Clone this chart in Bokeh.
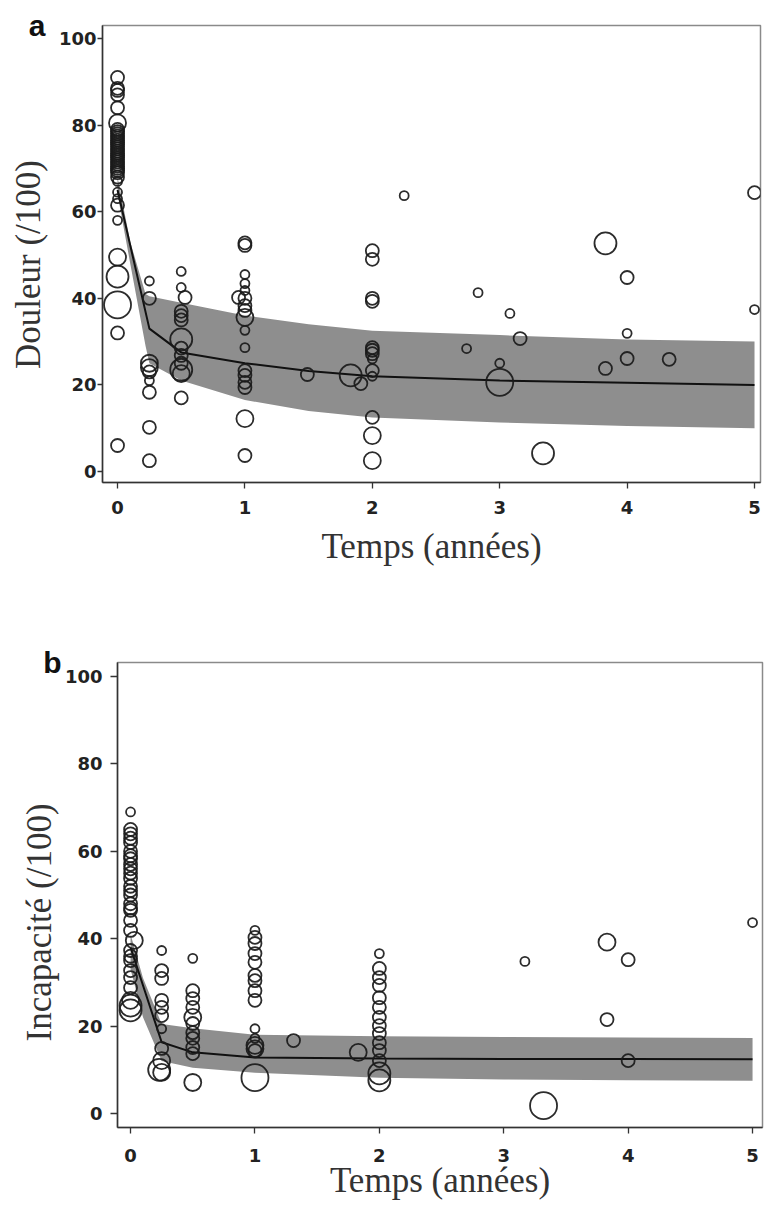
from bokeh.plotting import figure
from bokeh.layouts import column
from bokeh.models import Range1d, FixedTicker, LinearAxis, ColumnDataSource
from bokeh.embed import file_html
from bokeh.resources import INLINE

# ---------------- data: panel a (Douleur) ----------------
a_time = [0] * 38 + \
         [0.25, 0.25, 0.25, 0.25, 0.25, 0.25, 0.25, 0.25, 0.25,
          0.5, 0.5, 0.53, 0.5, 0.5, 0.5, 0.5, 0.5, 0.5, 0.5, 0.5, 0.5, 0.5,
          1, 1, 1, 1, 1, 0.95, 1, 1, 1, 1, 1, 1, 1, 1, 1, 1, 1, 1,
          1.49, 1.83, 1.91,
          2, 2, 2, 2, 2, 2, 2, 2, 2, 2, 2, 2, 2,
          2.25, 2.83, 2.74, 3.08, 3.16, 3.0, 3.0, 3.34, 3.83, 3.83, 4.0, 4.0, 4.0, 4.33, 5.0, 5.0]
a_score = [91, 88.5, 88, 87, 84, 80.5, 79, 78.5, 78, 77.5, 77, 76.5, 76, 75.5, 75, 74.5, 74, 73.5, 73, 72.5,
           72, 71.5, 71, 70.5, 70, 69.5, 69, 68, 67, 64.5, 63, 61.5, 58, 49.5, 45, 38.5, 32, 6,
           44, 40, 25, 24, 23, 21, 18.3, 10.2, 2.5,
           46.2, 42.5, 40.2, 37, 36, 35, 30.5, 28.5, 26.8, 25, 23.5, 22.6, 17,
           52.8, 52.2, 45.5, 43.4, 41.8, 40.2, 40, 38.3, 37.2, 35.6, 32.6, 28.6, 23.3, 22.2, 20.6, 19.4, 12.2, 3.7,
           22.4, 22.2, 20.3,
           51, 49, 40, 39.3, 28.6, 28, 27.2, 26, 23.3, 22, 12.5, 8.3, 2.5,
           63.7, 41.3, 28.4, 36.5, 30.7, 25, 20.6, 4.2, 52.7, 23.8, 44.8, 31.9, 26.1, 25.9, 64.4, 37.4]
a_weight = [2, 2, 2, 2, 2, 3, 2, 2, 2, 2, 2, 2, 2, 2, 2, 2, 2, 2, 2, 2,
            2, 2, 2, 2, 2, 2, 2, 2, 1, 1, 1, 2, 1, 3, 4, 5, 2, 2,
            1, 2, 3, 3, 2, 1, 2, 2, 2,
            1, 1, 2, 2, 2, 2, 4, 2, 2, 2, 4, 3, 2,
            2, 2, 1, 1, 1, 2, 2, 2, 2, 3, 1, 1, 2, 2, 2, 2, 3, 2,
            2, 4, 2,
            2, 2, 2, 2, 2, 2, 2, 1, 2, 1, 2, 3, 3,
            1, 1, 1, 1, 2, 1, 5, 4, 4, 2, 2, 1, 2, 2, 2, 1]

a_band_time = [0, 0.1, 0.22, 0.25, 0.5, 1, 1.5, 2, 3, 4, 5]
a_band_upper = [68, 53, 41, 40.5, 39, 36, 34, 32.5, 31.5, 30.5, 30]
a_band_lower = [64, 48, 29, 25, 21, 16.5, 14, 12.5, 11.3, 10.5, 10]
a_fit_time = [0, 0.25, 0.5, 1, 1.5, 2, 3, 4, 5]
a_fit_score = [65, 33, 27.5, 25, 23.2, 22, 21, 20.5, 20]

# ---------------- data: panel b (Incapacité) ----------------
b_time = [0, 0, 0, 0, 0, 0, 0, 0, 0, 0, 0, 0, 0, 0, 0, 0, 0, 0, 0, 0, 0.03, 0, 0, 0, 0, 0, 0, 0, 0, 0,
          0.25, 0.25, 0.25, 0.25, 0.25, 0.25, 0.25, 0.25, 0.25, 0.23, 0.25,
          0.5, 0.5, 0.5, 0.5, 0.5, 0.5, 0.5, 0.5, 0.5, 0.5, 0.5,
          1, 1, 1, 1, 1, 1, 1, 1, 1, 1, 1, 1, 1, 1, 1,
          1.31, 1.83,
          2, 2, 2, 2, 2, 2, 2, 2, 2, 2, 2, 2, 2, 2,
          3.17, 3.83, 3.83, 4.0, 4.0, 3.32, 5.0]
b_score = [69, 65, 64, 63, 62, 60, 59, 58.3, 57, 56, 55, 53.8, 52, 51, 50, 48, 47, 46.5, 44.2, 41.9, 39.6,
           37.3, 36, 35, 32.7, 31.1, 28.8, 25.9, 24.7, 23.6,
           37.3, 32.7, 30.9, 25.9, 24.3, 22.4, 19.4, 14.9, 12.1, 10, 9.4,
           35.5, 28.1, 26.3, 24.3, 22, 20.6, 18.5, 17.2, 15.1, 13.7, 7.1,
           41.9, 40.3, 38.9, 36.6, 34.6, 31.6, 30.4, 28.1, 25.9, 19.4, 17.2, 15.6, 14.8, 14.4, 8.2,
           16.7, 14,
           36.6, 33.2, 31.1, 29.3, 26.5, 24.3, 22, 20.1, 18.3, 16.2, 14.4, 12.1, 9.2, 7.6,
           34.8, 39.2, 21.5, 35.2, 12.1, 1.8, 43.7]
b_weight = [1, 2, 2, 2, 2, 2, 2, 2, 2, 2, 2, 2, 2, 2, 2, 2, 2, 2, 2, 2, 3,
            2, 2, 2, 2, 2, 2, 3, 4, 4,
            1, 2, 2, 2, 2, 2, 1, 2, 3, 4, 3,
            1, 2, 2, 2, 3, 2, 2, 2, 2, 2, 3,
            1, 2, 2, 2, 2, 2, 2, 2, 2, 1, 1, 3, 3, 2, 5,
            2, 3,
            1, 2, 2, 2, 2, 2, 2, 2, 2, 2, 2, 2, 4, 4,
            1, 3, 2, 2, 2, 5, 1]

b_band_time = [0, 0.1, 0.25, 0.5, 1, 2, 3, 4, 5]
b_band_upper = [41, 31, 20.5, 19.5, 18, 17.7, 17.5, 17.4, 17.3]
b_band_lower = [33, 22, 12, 10.5, 9.3, 8.2, 7.8, 7.6, 7.5]
b_fit_time = [0, 0.25, 0.5, 1, 2, 3, 4, 5]
b_fit_score = [38, 16.3, 14, 12.8, 12.6, 12.5, 12.5, 12.4]

x_ticks = [0, 1, 2, 3, 4, 5]
y_ticks = [0, 20, 40, 60, 80, 100]
x_title = "Temps (années)"

# ---------------- styling ----------------
SIZE_PX = {1: 9, 2: 13, 3: 17, 4: 22, 5: 27}
SERIF = "Liberation Serif"
SANS = "Liberation Sans"
TICKFONT = "DejaVu Sans"
BAND = "#8e8e8e"


def make_panel(letter, ytitle, times, scores, weights, bt, bu, bl, ft, fs,
               width, height, mb, xr, yr, xtick_out, xstand, ytick_out, ystand,
               letter_stand, title_stand, title_px, xtitle_stand):
    p = figure(width=width, height=height, output_backend="svg", toolbar_location=None,
               x_range=Range1d(*xr), y_range=Range1d(*yr),
               min_border_left=mb[0], min_border_right=mb[1],
               min_border_top=mb[2], min_border_bottom=mb[3])
    p.frame_align = False
    p.xgrid.visible = False
    p.ygrid.visible = False
    p.outline_line_color = "#8a8a8a"
    p.outline_line_width = 1.5
    p.background_fill_color = "white"
    p.border_fill_color = "white"

    for ax, ticks, tout, stand in ((p.xaxis[0], x_ticks, xtick_out, xstand),
                                   (p.yaxis[0], y_ticks, ytick_out, ystand)):
        ax.ticker = FixedTicker(ticks=ticks)
        ax.minor_tick_line_color = None
        ax.major_tick_in = 0
        ax.major_tick_out = tout
        ax.major_label_standoff = stand
        ax.axis_line_color = "#333333"
        ax.axis_line_width = 1.5
        ax.major_tick_line_color = "#333333"
        ax.major_tick_line_width = 1.3
        ax.major_label_text_font = TICKFONT
        ax.major_label_text_font_style = "bold"
        ax.major_label_text_font_size = "18px"
        ax.major_label_text_color = "#222222"

    xa = p.xaxis[0]
    xa.axis_label = x_title
    xa.axis_label_text_font = SERIF
    xa.axis_label_text_font_size = "35px"
    xa.axis_label_text_font_style = "normal"
    xa.axis_label_text_color = "#333333"
    xa.axis_label_standoff = xtitle_stand

    # pixel-scale helper range (0 = frame bottom, frame_h = frame top) to place
    # the panel letter and the y title beside the frame
    frame_h = height - mb[2] - mb[3]
    p.extra_y_ranges = {"pix": Range1d(0, frame_h)}

    letter_axis = LinearAxis(y_range_name="pix", ticker=FixedTicker(ticks=[frame_h]),
                             major_label_overrides={frame_h: letter})
    title_axis = LinearAxis(y_range_name="pix", ticker=FixedTicker(ticks=[title_px]),
                            major_label_overrides={title_px: ytitle},
                            major_label_orientation="parallel")
    for ax, stand in ((letter_axis, letter_stand), (title_axis, title_stand)):
        ax.axis_line_color = None
        ax.major_tick_line_color = None
        ax.minor_tick_line_color = None
        ax.major_tick_in = 0
        ax.major_tick_out = 0
        ax.major_label_standoff = stand
    letter_axis.major_label_text_font = SANS
    letter_axis.major_label_text_font_style = "bold"
    letter_axis.major_label_text_font_size = "30px"
    letter_axis.major_label_text_color = "#111111"
    title_axis.major_label_text_font = SERIF
    title_axis.major_label_text_font_style = "normal"
    title_axis.major_label_text_font_size = "35px"
    title_axis.major_label_text_color = "#333333"
    p.add_layout(letter_axis, "left")
    p.add_layout(title_axis, "left")

    p.varea(x=bt, y1=bl, y2=bu, fill_color=BAND, fill_alpha=1.0)
    p.line(x=ft, y=fs, line_color="#111111", line_width=2)

    src = ColumnDataSource(dict(t=times, s=scores, size=[SIZE_PX[w] for w in weights]))
    p.scatter(x="t", y="s", size="size", source=src, marker="circle",
              fill_color=None, line_color="#1a1a1a", line_width=1.8, line_alpha=0.92)
    return p


pa = make_panel("a", "Douleur (/100)", a_time, a_score, a_weight,
                a_band_time, a_band_upper, a_band_lower, a_fit_time, a_fit_score,
                width=764, height=600, mb=(102, 4, 25, 118),
                xr=(-0.118, 5.047), yr=(-2.54, 103.0),
                xtick_out=6, xstand=12, ytick_out=5, ystand=1,
                letter_stand=10, title_stand=-22, title_px=218, xtitle_stand=10)

pb = make_panel("b", "Incapacité (/100)", b_time, b_score, b_weight,
                b_band_time, b_band_upper, b_band_lower, b_fit_time, b_fit_score,
                width=764, height=610, mb=(117, 2, 62, 83),
                xr=(-0.105, 5.08), yr=(-3.2, 103.2),
                xtick_out=6, xstand=15, ytick_out=7, ystand=8,
                letter_stand=0, title_stand=-18, title_px=205, xtitle_stand=-4)

layout = column(pa, pb)
open("out.html", "w").write(file_html(layout, INLINE))
